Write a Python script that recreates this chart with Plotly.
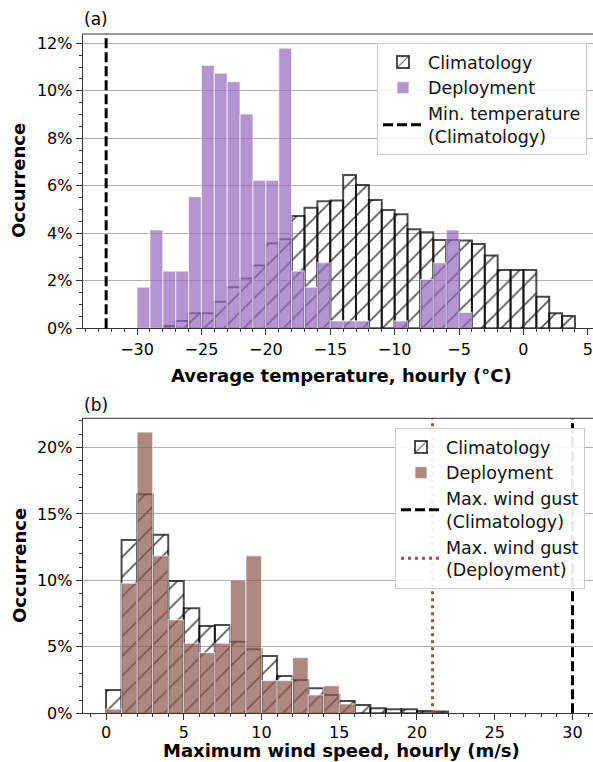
import plotly.graph_objects as go

# ---------------- data ----------------
# (a) Average hourly temperature, 1 degC bins (left edges)
temp_clim_bins = list(range(-28, 4))
temp_clim_pct = [0.10, 0.31, 0.63, 0.63, 1.12, 1.73, 2.10, 2.64, 3.58, 3.75,
                 4.73, 5.08, 5.35, 5.38, 6.45, 6.03, 5.40, 4.98, 4.80, 4.17,
                 4.04, 3.72, 3.72, 3.70, 3.55, 3.06, 2.45, 2.45, 2.45, 1.33,
                 0.63, 0.52]
temp_dep_bins = list(range(-30, -4))
temp_dep_pct = [1.73, 4.14, 2.41, 2.41, 5.54, 11.07, 10.74, 10.38, 9.02, 6.23,
                6.23, 11.79, 2.41, 1.73, 2.76, 0.31, 0.31, 0.31, 0.0, 0.0,
                0.31, 0.0, 2.06, 2.76, 4.14, 0.67]
min_temp_clim = -32.4

# (b) Maximum hourly wind speed, 1 m/s bins (left edges)
wind_clim_bins = list(range(0, 22))
wind_clim_pct = [1.75, 13.05, 16.49, 13.43, 9.96, 7.90, 6.57, 6.65, 5.39, 4.82,
                 4.31, 2.81, 2.51, 1.88, 1.38, 0.93, 0.63, 0.38, 0.30, 0.30,
                 0.18, 0.13]
wind_dep_bins = list(range(0, 16))
wind_dep_pct = [0.32, 9.79, 21.16, 11.85, 7.03, 5.27, 4.56, 5.27, 10.04, 11.85,
                2.46, 2.46, 4.19, 1.38, 2.08, 0.70]
max_gust_clim = 30.0
max_gust_dep = 21.0

temp_ticks = [-30, -25, -20, -15, -10, -5, 0, 5]
wind_ticks = [0, 5, 10, 15, 20, 25, 30]

# ---------------- style ----------------
W, H = 593, 762
FONT = "DejaVu Sans"
PURPLE = "rgba(148,103,189,0.7)"
BROWN = "rgba(140,86,75,0.7)"
EDGE_DEP = "rgba(255,255,255,0.6)"
EDGE_CLIM = "rgba(0,0,0,0.7)"
HATCH = "#555555"

X_LEFT = 82.7
top_px = (34, 328.3)
bot_px = (418.3, 713.3)
TEMP_RANGE = [-34.22, 5.40]
WIND_RANGE = [-1.5, 31.32]
Y1_TOP = 12.39
Y2_TOP = 22.2


def nz(bins, vals):
    b, v = [], []
    for x, y in zip(bins, vals):
        if y > 0:
            b.append(x)
            v.append(y)
    return b, v


fig = go.Figure()

clim_marker = dict(color="rgba(0,0,0,0)",
                   line=dict(color=EDGE_CLIM, width=2),
                   pattern=dict(shape="/", fgcolor=HATCH, bgcolor="rgba(0,0,0,0)",
                                size=14, solidity=0.12, fillmode="replace"))

# ---- panel (a)
b, v = nz(temp_clim_bins, temp_clim_pct)
fig.add_trace(go.Bar(x=b, y=v, offset=0, width=1, name="Climatology",
                     marker=clim_marker, xaxis="x", yaxis="y", legend="legend"))
b, v = nz(temp_dep_bins, temp_dep_pct)
fig.add_trace(go.Bar(x=b, y=v, offset=0, width=1, name="Deployment",
                     marker=dict(color=PURPLE, line=dict(color=EDGE_DEP, width=1.2)),
                     xaxis="x", yaxis="y", legend="legend"))
fig.add_trace(go.Scatter(x=[min_temp_clim, min_temp_clim], y=[0, Y1_TOP], mode="lines",
                         name="Min. temperature<br>(Climatology)",
                         line=dict(color="black", width=3, dash="10px,4px"),
                         xaxis="x", yaxis="y", legend="legend"))

# ---- panel (b)
b, v = nz(wind_clim_bins, wind_clim_pct)
fig.add_trace(go.Bar(x=b, y=v, offset=0, width=1, name="Climatology",
                     marker=clim_marker, xaxis="x2", yaxis="y2", legend="legend2"))
b, v = nz(wind_dep_bins, wind_dep_pct)
fig.add_trace(go.Bar(x=b, y=v, offset=0, width=1, name="Deployment",
                     marker=dict(color=BROWN, line=dict(color=EDGE_DEP, width=1.2)),
                     xaxis="x2", yaxis="y2", legend="legend2"))
fig.add_trace(go.Scatter(x=[max_gust_clim, max_gust_clim], y=[0, Y2_TOP], mode="lines",
                         name="Max. wind gust<br>(Climatology)",
                         line=dict(color="black", width=3, dash="10px,4px"),
                         xaxis="x2", yaxis="y2", legend="legend2"))
fig.add_trace(go.Scatter(x=[max_gust_dep, max_gust_dep], y=[0, Y2_TOP], mode="lines",
                         name="Max. wind gust<br>(Deployment)",
                         line=dict(color="#8c564b", width=3, dash="3px,4px"),
                         xaxis="x2", yaxis="y2", legend="legend2"))


def ydom(px):
    return [1 - px[1] / H, 1 - px[0] / H]


tickfont = dict(family=FONT, size=16, color="black")
common_x = dict(showline=True, linecolor="#333", linewidth=1, mirror=False,
                ticks="outside", ticklen=6, tickwidth=1, tickcolor="#333",
                showgrid=False, zeroline=False, tickfont=tickfont, automargin=False,
                minor=dict(dtick=1, ticks="outside", ticklen=3, tickcolor="#333", showgrid=False))
common_y = dict(showline=True, linecolor="#333", linewidth=1,
                ticks="outside", ticklen=6, tickwidth=1, tickcolor="#333",
                showgrid=True, gridcolor="#b0b0b0", gridwidth=1, zeroline=False,
                tickfont=tickfont, ticksuffix="%", automargin=False)

legend_common = dict(xanchor="right", yanchor="top",
                     bgcolor="rgba(255,255,255,0.92)", bordercolor="#cccccc", borderwidth=1,
                     font=dict(family=FONT, size=17.5, color="#111"), tracegroupgap=0,
                     itemwidth=40)

fig.update_layout(
    width=W, height=H,
    margin=dict(l=0, r=0, t=0, b=0),
    paper_bgcolor="white", plot_bgcolor="white",
    barmode="overlay",
    font=dict(family=FONT, size=16, color="black"),
    xaxis=dict(domain=[X_LEFT / W, 1], anchor="y", range=TEMP_RANGE,
               tickvals=temp_ticks, ticktext=[str(t).replace("-", "\u2212") for t in temp_ticks],
               **common_x),
    yaxis=dict(domain=ydom(top_px), anchor="x", range=[0, Y1_TOP], dtick=2, tick0=0,
               minor=dict(dtick=0.5, ticks="outside", ticklen=3, tickcolor="#333", showgrid=False),
               **common_y),
    xaxis2=dict(domain=[X_LEFT / W, 1], anchor="y2", range=WIND_RANGE,
                tickvals=wind_ticks, ticklabelstandoff=-2, **common_x),
    yaxis2=dict(domain=ydom(bot_px), anchor="x2", range=[0, Y2_TOP], dtick=5, tick0=0,
                minor=dict(dtick=1, ticks="outside", ticklen=3, tickcolor="#333", showgrid=False),
                **common_y),
    legend=dict(x=587 / W, y=1 - 43 / H, **legend_common),
    legend2=dict(x=585 / W, y=1 - 428 / H, **legend_common),
    showlegend=True,
)

# top frame lines (matplotlib-style top spine)
for xref, yref in (("x", "y"), ("x2", "y2")):
    fig.add_shape(type="line", xref=xref + " domain", yref=yref + " domain",
                  x0=0, x1=1, y0=1, y1=1, line=dict(color="#333", width=1), layer="above")


def label(text, px, py, size, angle=0):
    return dict(text=text, x=px / W, y=1 - py / H, xref="paper", yref="paper",
                xanchor="center", yanchor="middle", textangle=angle,
                showarrow=False, font=dict(family=FONT, size=size, color="black"))


ann = [
    label("(a)", 96, 19, 17),
    label("(b)", 96, 405, 17),
    label("<b>Average temperature, hourly (°C)</b>", 341, 375, 18),
    label("<b>Maximum wind speed, hourly (m/s)</b>", 341, 750, 18),
    label("<b>Occurrence</b>", 19, 181, 18, -90),
    label("<b>Occurrence</b>", 19, 566, 18, -90),
]
fig.update_layout(annotations=ann)

fig.write_html("out.html")
